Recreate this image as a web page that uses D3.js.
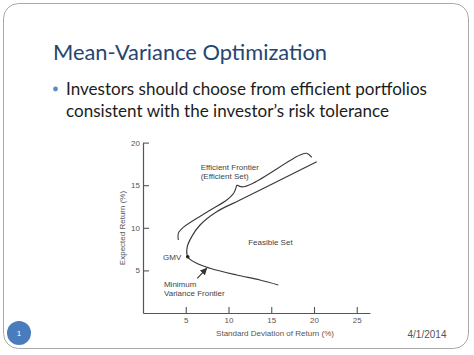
<!DOCTYPE html>
<html>
<head>
<meta charset="utf-8">
<script src="https://cdn.jsdelivr.net/npm/d3@7"></script>
<style>
  html, body { margin: 0; padding: 0; background: #fff; }
  svg { display: block; }
</style>
</head>
<body>
<svg id="chart" width="474" height="355"></svg>
<script>
// ---- data ----
const xTicks = [5, 10, 15, 20, 25];
const yTicks = [5, 10, 15, 20];
// minimum-variance frontier (sigma %, return %)
const frontierSigma  = [20.32, 17.98, 14.47, 11.35, 8.62, 6.67, 5.70, 5.18, 5.23, 6.28, 7.84, 10.96, 13.68, 15.82];
const frontierReturn = [17.76, 16.58, 14.82, 13.26, 11.89, 10.33, 8.96, 7.78, 6.61, 5.83, 5.25, 4.46, 3.87, 3.29];
// global minimum variance portfolio
const gmvPoint = [5.23, 6.61];
// curly brace marking the efficient set (two halves meeting at the cusp)
const braceLeftSigma  = [4.13, 4.13, 4.71, 7.84, 9.79, 10.64, 10.96];
const braceLeftReturn = [8.57, 9.35, 10.05, 12.05, 13.26, 14.12, 15.02];
const braceRightSigma  = [10.96, 11.6, 12.9, 18.36, 19.15, 19.73];
const braceRightReturn = [15.02, 14.8, 15.25, 18.54, 18.74, 18.27];
// arrow pointing to the frontier
const arrowFrom = [6.35, 4.07];
const arrowTo   = [7.45, 5.25];
// annotation labels
const labelTexts  = ["Efficient Frontier", "(Efficient Set)", "Feasible Set", "GMV", "Minimum", "Variance Frontier"];
const labelSigma  = [6.75, 6.75, 12.3, 2.35, 2.45, 2.45];
const labelReturn = [16.8, 15.75, 8.0, 6.25, 3.05, 1.95];

const titleText = "Mean-Variance Optimization";
const bulletLines = ["Investors should choose from efficient portfolios", "consistent with the investor\u2019s risk tolerance"];
const xTitle = "Standard Deviation of Return (%)";
const yTitle = "Expected Return (%)";
const slideNumber = "1";
const slideDate = "4/1/2014";

// ---- drawing ----
const svg = d3.select("#chart");

// slide frame
svg.append("rect")
  .attr("x", 3.5).attr("y", 3.5).attr("width", 465).attr("height", 345)
  .attr("rx", 15).attr("ry", 15)
  .attr("fill", "#fff").attr("stroke", "#a9a9a9").attr("stroke-width", 1);

// title
svg.append("text")
  .attr("x", 53).attr("y", 60)
  .attr("font-family", "Lato, 'Open Sans', sans-serif")
  .attr("font-size", 21)
  .attr("fill", "#254670")
  .attr("textLength", 274).attr("lengthAdjust", "spacingAndGlyphs")
  .text(titleText);

// bullet
svg.append("circle").attr("cx", 55.5).attr("cy", 89).attr("r", 2.4).attr("fill", "#5b8ac6");
const lineWidths = [361, 323];
bulletLines.forEach((t, i) => {
  svg.append("text")
    .attr("x", 66).attr("y", 95 + i * 21.5)
    .attr("font-family", "Lato, 'Open Sans', sans-serif")
    .attr("font-size", 18)
    .attr("fill", "#1c1c1c")
    .attr("textLength", lineWidths[i]).attr("lengthAdjust", "spacingAndGlyphs")
    .text(t);
});

// footer
svg.append("circle").attr("cx", 19).attr("cy", 333).attr("r", 12).attr("fill", "#4a7cbd");
svg.append("text").attr("x", 19).attr("y", 336)
  .attr("text-anchor", "middle").attr("font-family", "Liberation Sans, Arial, sans-serif")
  .attr("font-size", 8).attr("fill", "#fff").text(slideNumber);
svg.append("text").attr("x", 427).attr("y", 337.5)
  .attr("text-anchor", "middle").attr("font-family", "Liberation Sans, Arial, sans-serif")
  .attr("font-size", 10).attr("fill", "#555").text(slideDate);

// chart
const x = d3.scaleLinear().domain([0, 26.55]).range([143, 370]);
const y = d3.scaleLinear().domain([0, 20]).range([313, 142.6]);
const axisFont = "Liberation Sans, Arial, Helvetica, sans-serif";
const ink = "#3a3a3a";
const fs = 8;

const gx = svg.append("g").attr("transform", "translate(0,313)")
  .call(d3.axisBottom(x).tickValues(xTicks).tickSizeInner(-6).tickSizeOuter(0).tickPadding(4));
const gy = svg.append("g").attr("transform", "translate(143,0)")
  .call(d3.axisLeft(y).tickValues(yTicks).tickSizeInner(-6).tickSizeOuter(0).tickPadding(3));
[gx, gy].forEach(g => {
  g.select(".domain").attr("stroke", "#555").attr("stroke-width", 1.2);
  g.selectAll(".tick line").attr("stroke", "#555").attr("stroke-width", 1.1);
  g.selectAll(".tick text").attr("fill", "#555").attr("font-size", fs).attr("font-family", axisFont);
});

svg.append("text")
  .attr("x", 275).attr("y", 336)
  .attr("text-anchor", "middle").attr("font-family", axisFont)
  .attr("font-size", fs).attr("fill", "#555").text(xTitle);
svg.append("text")
  .attr("transform", "translate(124.5,228) rotate(-90)")
  .attr("text-anchor", "middle").attr("font-family", axisFont)
  .attr("font-size", fs).attr("fill", "#555").text(yTitle);

const line = d3.line().x(d => x(d[0])).y(d => y(d[1])).curve(d3.curveCatmullRom.alpha(0.5));

const frontier = frontierSigma.map((s, i) => [s, frontierReturn[i]]);
svg.append("path").datum(frontier).attr("d", line)
  .attr("fill", "none").attr("stroke", ink).attr("stroke-width", 1.2);

const braceL = braceLeftSigma.map((s, i) => [s, braceLeftReturn[i]]);
const braceR = braceRightSigma.map((s, i) => [s, braceRightReturn[i]]);
[braceL, braceR].forEach(b => {
  svg.append("path").datum(b).attr("d", line)
    .attr("fill", "none").attr("stroke", ink).attr("stroke-width", 1.1);
});

svg.append("circle").attr("cx", x(gmvPoint[0])).attr("cy", y(gmvPoint[1])).attr("r", 1.8).attr("fill", "#222");

// arrow
svg.append("defs").append("marker")
  .attr("id", "ah").attr("viewBox", "0 0 10 10").attr("refX", 9).attr("refY", 5)
  .attr("markerWidth", 7).attr("markerHeight", 7).attr("markerUnits", "userSpaceOnUse")
  .attr("orient", "auto")
  .append("path").attr("d", "M0,0 L10,5 L0,10 Z").attr("fill", "#333");
svg.append("line")
  .attr("x1", x(arrowFrom[0])).attr("y1", y(arrowFrom[1]))
  .attr("x2", x(arrowTo[0])).attr("y2", y(arrowTo[1]))
  .attr("stroke", "#333").attr("stroke-width", 1.1).attr("marker-end", "url(#ah)");

labelTexts.forEach((t, i) => {
  svg.append("text")
    .attr("x", x(labelSigma[i])).attr("y", y(labelReturn[i]))
    .attr("font-family", axisFont).attr("font-size", fs).attr("fill", "#444")
    .text(t);
});
</script>
</body>
</html>
